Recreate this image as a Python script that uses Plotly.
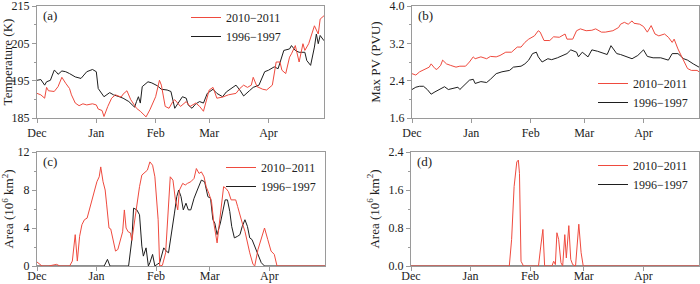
import pandas as pd
import plotly.graph_objects as go

# ---------------- data ----------------
base_date = "2010-12-01"
month_ticks = ["Dec", "Jan", "Feb", "Mar", "Apr"]
series_names = ["2010\u22122011", "1996\u22121997"]

# (a) Temperature (K)
a_red_day = [0,2,4,5,6,9,11,13,15,17,18,20,22,24,26,29,31,32,34,35,37,39,41,44,45,47,49,51,52,54,
             57,59,62,64,65,67,69,71,72,75,78,80,83,85,87,90,92,94,97,100,104,106,108,110,112,113,115,118,120,123,
             125,127,128,130,132,133,135,137,139,140,142,145,147,148,150]
a_red_val = [191.6,191.2,190.3,193.2,192.3,192.1,193.4,195.9,194.3,192.9,191.2,189.0,188.3,188.8,188.5,188.8,188.5,187.4,187.0,185.4,
             188.1,190.3,191.2,190.6,191.4,192.3,189.9,188.3,187.6,186.8,185.3,187.2,190.7,195.1,193.8,188.1,187.6,189.4,189.9,188.1,
             189.4,188.1,189.0,188.1,186.8,192.5,193.2,190.3,190.6,191.2,191.6,192.9,193.8,193.2,193.8,195.9,193.4,192.7,192.5,193.8,
             200.0,200.0,197.8,196.9,201.3,202.2,204.4,200.0,204.9,203.1,204.9,209.7,207.5,211.5,212.4]
a_blk_day = [0,2,4,5,7,9,10,11,13,15,17,20,23,24,26,29,31,32,35,38,40,43,45,48,51,52,53,54,55,58,
             60,63,65,68,70,72,74,76,78,79,81,83,85,87,89,92,94,97,99,102,104,106,108,111,113,116,119,121,124,126,
             129,132,133,135,137,140,141,143,145,146,147,148,150]
a_blk_val = [195.1,195.3,193.8,194.7,195.1,197.8,197.4,196.7,197.6,197.4,196.9,196.0,195.6,196.2,197.4,198.0,197.4,192.9,190.7,191.8,
             191.2,190.7,190.3,189.4,187.9,189.4,190.7,189.0,193.4,194.7,194.4,193.6,192.7,192.5,192.1,187.6,189.0,190.7,190.3,188.5,
             187.6,188.8,189.4,189.0,191.6,192.7,191.6,190.7,192.0,193.2,193.8,192.5,190.9,192.3,193.2,193.8,197.4,197.8,198.7,198.2,
             203.1,203.5,204.4,203.1,202.6,202.6,200.4,199.1,204.0,207.5,204.9,207.1,205.7]

# (b) Max PV (PVU)
b_red_day = [0,2,4,7,9,10,12,13,15,16,18,20,23,25,28,30,32,33,36,39,41,44,46,49,52,55,57,59,61,64,
             66,67,69,72,74,77,80,81,84,86,88,91,94,96,99,101,105,108,109,111,113,115,116,119,121,123,125,127,129,132,
             134,136,137,139,141,143,144,146,149,150]
b_red_val = [2.55,2.52,2.59,2.66,2.69,2.76,2.66,2.64,2.73,2.84,2.76,2.73,2.69,2.71,2.71,2.80,2.91,2.87,2.91,2.87,
             2.92,2.91,2.94,3.01,3.01,3.12,3.12,3.22,3.29,3.36,3.47,3.44,3.26,3.26,3.34,3.33,3.40,3.29,3.29,3.47,
             3.51,3.47,3.48,3.51,3.44,3.44,3.47,3.54,3.61,3.65,3.61,3.68,3.63,3.61,3.56,3.44,3.58,3.40,3.36,3.40,
             3.33,3.22,3.29,3.08,2.91,2.76,2.66,2.62,2.62,2.59]
b_blk_day = [0,2,4,6,8,10,12,14,17,19,22,24,25,28,30,32,33,36,39,41,44,47,51,53,57,59,61,63,65,66,
             68,71,73,76,79,81,83,86,87,89,92,94,97,100,102,104,107,109,113,115,118,121,123,126,130,134,136,139,142,144,
             147,150]
b_blk_val = [2.21,2.26,2.28,2.28,2.21,2.11,2.16,2.20,2.27,2.21,2.24,2.26,2.21,2.34,2.41,2.43,2.34,2.38,2.36,2.43,
             2.55,2.59,2.62,2.69,2.71,2.76,2.84,2.98,3.01,2.91,2.80,2.87,2.85,2.89,2.94,2.98,3.06,3.01,2.91,3.01,
             2.91,3.06,3.03,2.98,2.96,3.15,2.98,2.96,2.89,2.87,2.94,3.06,2.92,2.89,2.89,2.84,2.98,2.98,2.87,2.84,
             2.76,2.69]

# (c) Area (10^6 km^2)
c_red_day = [0,1.7,2.6,6,8.5,10.2,11.9,17,18.4,19.9,21,22.2,23.4,24.7,26.1,27.3,28.5,29.8,31.2,32.4,
             33.2,34.4,35.5,36.3,37.5,38.4,39.7,40.9,42.1,43.5,44.6,45.5,46.4,47.5,48.6,49.4,50.6,52,53.4,54.6,
             56.3,57.5,58.8,60.2,61.4,62.2,63.1,63.9,65.3,67,68.2,69.4,70.8,72.1,73.3,74.2,75.9,77.2,78.4,80.1,
             81.8,83,84.4,85.6,87,88.1,89.5,90.9,92.1,93.8,94.6,96,97.2,98.4,99.7,101.1,102.3,103.5,104.5,105.7,
             106.9,108.3,109.6,110.8,112.5,113.4,115.1,116.8,118.5,120.2,121.9,123.6,125,150]
c_red_val = [0.42,0.17,0,0,0.07,0.17,0,0,0.52,3.30,0.52,3.13,4.35,4.87,5.04,5.91,6.96,8.0,8.87,9.39,
             10.43,8.87,8.0,6.43,4.0,3.9,2.61,1.57,1.74,2.9,3.6,5.9,4.0,3.6,3.5,2.7,4.52,6.61,8.35,9.57,
             9.91,10.09,10.96,10.61,9.39,6.96,4.87,0,0.07,1.39,4.87,9.39,9.04,6.96,5.91,8.0,8.70,8.52,8.70,8.87,
             9.22,10.26,9.74,9.91,9.39,8.35,7.65,6.78,4.52,2.43,3.83,6.43,8.35,8.17,7.83,6.96,6.96,6.96,6.26,5.22,
             4.52,3.65,2.43,1.39,0.17,0,1.74,2.78,4.0,2.78,1.57,1.22,0,0]
c_blk_day = [0,35,36.7,38,47.7,49.4,50.3,52,53.4,54.6,55.4,56.8,58,58.8,60.2,61.4,62.6,63.9,66,67.3,
             68.5,69.9,71.6,72.8,73.8,75,76.2,77.6,78.8,80.1,81.8,83.5,85.6,87.3,89,90.4,91.6,92.6,93.8,95.5,
             96.7,98,99.2,100.4,101.4,102.8,104.5,105.7,106.9,108.3,109.6,110.8,112,113.4,115.1,116.8,118.5,150]
c_blk_val = [0,0,0.70,0,0,2.78,6.09,5.91,5.39,2.09,1.04,1.91,0,0.35,1.22,0,0.17,0.35,1.91,1.57,
             1.39,3.13,5.57,7.30,8.0,7.30,5.91,6.61,5.91,5.91,7.13,8.0,9.04,8.87,7.30,7.13,4.87,4.52,3.30,4.52,
             5.74,6.96,6.96,5.74,4.17,2.96,3.13,3.30,4.17,4.87,4.17,2.96,2.78,2.09,1.22,0.35,0,0]

# (d) Area (10^6 km^2)
d_red_day = [0,51.2,52.4,53.7,55.1,55.9,56.5,57.3,58.6,66.4,67.6,68.7,69.6,73.4,74.3,75.2,76,76.9,78.1,79,
             80.1,80.9,82.2,83.2,84.2,85.7,87.4,88.6,89.7,150]
d_red_val = [0,0,0.56,1.67,2.19,2.23,1.95,0.10,0,0,0.42,0.77,0,0,0.10,0.03,0.70,0.56,0.07,0,
             0.66,0.17,0.85,0.14,0.03,0,0.88,0.28,0,0]
d_blk_day = [0,150]
d_blk_val = [0,0]

# ---------------- style ----------------
RED = "#ef4a3e"
BLK = "#1e1e1e"
GRID = "#9a9a9a"
FONT = "Liberation Serif"
W, H = 700, 284

def to_dates(days):
    return pd.Timestamp(base_date) + pd.to_timedelta(days, unit="D")

fig = go.Figure()

panels = [
    ("x", "y", "legend", (a_red_day, a_red_val), (a_blk_day, a_blk_val)),
    ("x2", "y2", "legend2", (b_red_day, b_red_val), (b_blk_day, b_blk_val)),
    ("x3", "y3", "legend3", (c_red_day, c_red_val), (c_blk_day, c_blk_val)),
    ("x4", "y4", "legend4", (d_red_day, d_red_val), (d_blk_day, d_blk_val)),
]
for xa, ya, lg, red, blk in panels:
    fig.add_trace(go.Scatter(x=to_dates(blk[0]), y=blk[1], mode="lines", name=series_names[1],
                             line=dict(color=BLK, width=1), xaxis=xa, yaxis=ya, legend=lg, legendrank=2))
    fig.add_trace(go.Scatter(x=to_dates(red[0]), y=red[1], mode="lines", name=series_names[0],
                             line=dict(color=RED, width=1), xaxis=xa, yaxis=ya, legend=lg, legendrank=1))

def px_x(a, b):
    return [a / W, b / W]

def px_y(top, bottom):
    return [1 - bottom / H, 1 - top / H]

domains = {
    "a": (px_x(37, 324), px_y(6, 118)),
    "b": (px_x(412, 699), px_y(6, 118)),
    "c": (px_x(37, 325), px_y(152, 266)),
    "d": (px_x(411, 699), px_y(152, 266)),
}
yspecs = {
    "a": ("Temperature (K)", [185, 215], 185, 10, 5, None),
    "b": ("Max PV (PVU)", [1.6, 4.0], 1.6, 0.8, 0.4, ".1f"),
    "c": ("Area (10<sup>6</sup> km<sup>2</sup>)", [0, 12], 0, 4, 2, None),
    "d": ("Area (10<sup>6</sup> km<sup>2</sup>)", [0, 2.4], 0, 0.8, 0.4, ".1f"),
}
x_label_standoff = {"a": 0, "b": 0, "c": -5, "d": -5}

xrange_ = [pd.Timestamp(base_date), pd.Timestamp(base_date) + pd.Timedelta(days=150)]
axis_common = dict(showline=True, mirror=True, linecolor=GRID, linewidth=1, showgrid=False,
                   zeroline=False, ticks="outside", ticklen=4, tickcolor=GRID, tickwidth=1,
                   automargin=False, ticklabeloverflow="allow",
                   tickfont=dict(family=FONT, size=12, color="#222"))

layout = dict(width=W, height=H, autosize=False,
              margin=dict(l=0, r=0, t=0, b=0, pad=0, autoexpand=False),
              paper_bgcolor="white", plot_bgcolor="white",
              font=dict(family=FONT, size=12, color="#222"))

keys = ["a", "b", "c", "d"]
for i, k in enumerate(keys):
    sfx = "" if i == 0 else str(i + 1)
    xd, yd = domains[k]
    title, rng, t0, dt, mdt, fmt = yspecs[k]
    layout["xaxis" + sfx] = dict(axis_common, domain=xd, anchor="y" + sfx, type="date",
                                 range=xrange_, dtick="M1", tick0=base_date, tickformat="%b",
                                 ticklabelstandoff=x_label_standoff[k])
    yax = dict(axis_common, domain=yd, anchor="x" + sfx, range=rng, tick0=t0, dtick=dt,
               title=dict(text=title, font=dict(family=FONT, size=13, color="#222"), standoff=6),
               minor=dict(ticks="outside", ticklen=2, tickcolor=GRID, dtick=mdt, tick0=t0))
    if fmt:
        yax["tickformat"] = fmt
    layout["yaxis" + sfx] = yax

leg_common = dict(bgcolor="rgba(0,0,0,0)", borderwidth=0, font=dict(family=FONT, size=12, color="#222"),
                  xanchor="left", yanchor="top", itemwidth=30, tracegroupgap=0)
layout["legend"] = dict(leg_common, x=186 / W, y=1 - 3 / H)
layout["legend2"] = dict(leg_common, x=593 / W, y=1 - 69 / H)
layout["legend3"] = dict(leg_common, x=221 / W, y=1 - 153 / H)
layout["legend4"] = dict(leg_common, x=593 / W, y=1 - 151 / H)

annots = []
for i, k in enumerate(keys):
    sfx = "" if i == 0 else str(i + 1)
    annots.append(dict(text="(" + k + ")", xref=("x" + sfx + " domain"), yref=("y" + sfx + " domain"),
                       x=0.015, y=1.0, xanchor="left", yanchor="top", showarrow=False,
                       font=dict(family=FONT, size=13, color="#222")))
layout["annotations"] = annots
layout["showlegend"] = True

fig.update_layout(**layout)
fig.write_html("out.html", config={"displayModeBar": False},
               post_script="document.body.style.margin='0';document.body.style.padding='0';")
